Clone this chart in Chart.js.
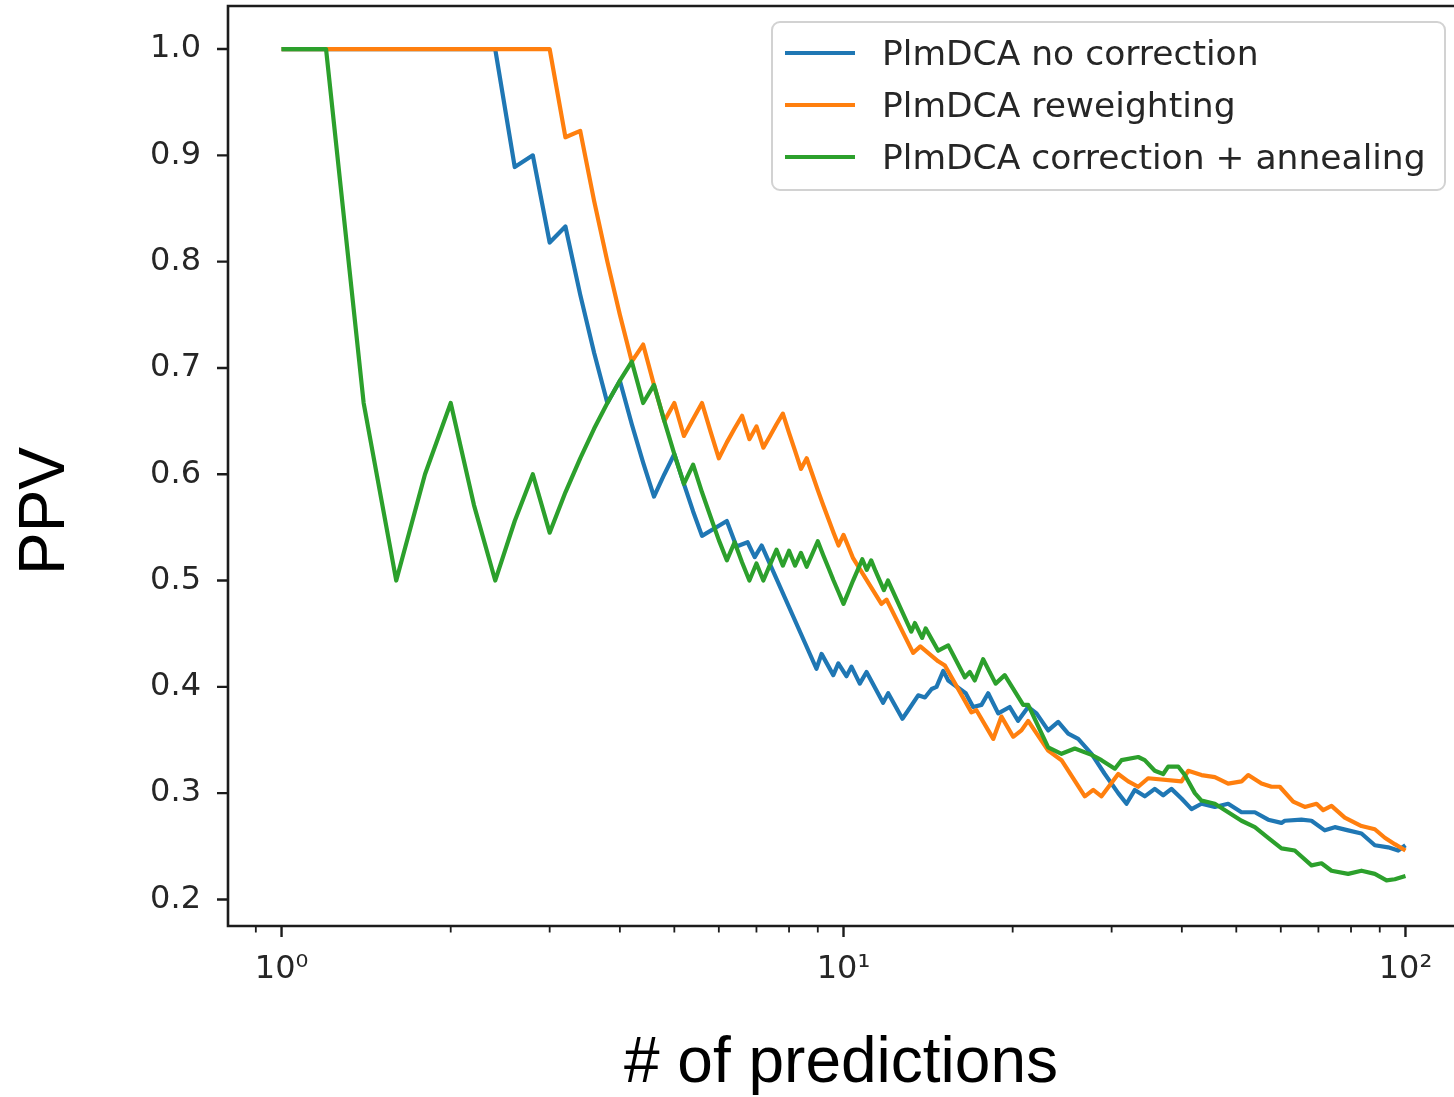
<!DOCTYPE html>
<html>
<head>
<meta charset="utf-8">
<script src="https://cdn.jsdelivr.net/npm/chart.js@4.4.1/dist/chart.umd.min.js"></script>
<style>
html,body{margin:0;padding:0;background:#ffffff;}
canvas{display:block;}
</style>
</head>
<body>
<canvas id="c" width="1454" height="1097"></canvas>
<script>
// ---------------- data ----------------
const seriesLabels = ['PlmDCA no correction', 'PlmDCA reweighting', 'PlmDCA correction + annealing'];
const seriesColors = ['#1f77b4', '#ff7f0e', '#2ca02c'];

const blueX = [1, 2.4, 2.6, 2.8, 3.0, 3.2, 3.4, 3.6, 3.8, 4.0, 4.2, 4.4, 4.6, 4.8, 5.0, 5.2, 5.4, 5.6, 6.2, 6.45,
  6.75, 6.95, 7.15, 8.95, 9.14, 9.59, 9.79, 10.12, 10.33, 10.69, 10.99, 11.76, 12.01, 12.73, 13.0, 13.58, 13.96, 14.35, 14.64, 15.05,
  15.36, 16.5, 17.01, 17.6, 18.09, 18.85, 19.76, 20.45, 21.31, 22.05, 23.13, 24.1, 25.11, 26.16, 27.63, 29.17, 30.82, 31.89, 32.99, 34.36,
  35.8, 37.06, 38.33, 39.94, 41.62, 43.35, 45.79, 48.36, 51.08, 53.95, 56.98, 60.17, 60.98, 65.3, 68.04, 71.86, 74.86, 79.07, 83.51, 88.2,
  93.17, 97.05, 100];
const blueY = [1, 1, 0.889, 0.9, 0.818, 0.833, 0.769, 0.714, 0.667, 0.688, 0.647, 0.611, 0.579, 0.6, 0.619, 0.591, 0.565, 0.542, 0.556, 0.532,
  0.536, 0.522, 0.533, 0.417, 0.431, 0.411, 0.422, 0.41, 0.419, 0.403, 0.414, 0.385, 0.394, 0.37, 0.377, 0.392, 0.39, 0.398, 0.4, 0.415,
  0.406, 0.394, 0.381, 0.383, 0.394, 0.375, 0.381, 0.368, 0.381, 0.375, 0.359, 0.367, 0.356, 0.351, 0.337, 0.318, 0.3, 0.29, 0.303, 0.297,
  0.304, 0.298, 0.304, 0.295, 0.285, 0.29, 0.287, 0.29, 0.282, 0.282, 0.275, 0.272, 0.274, 0.275, 0.274, 0.265, 0.268, 0.265, 0.262, 0.251,
  0.249, 0.246, 0.251];

const orangeX = [1, 3.0, 3.2, 3.4, 3.6, 3.8, 4.0, 4.2, 4.4, 4.6, 4.8, 5.0, 5.2, 5.4, 5.6, 5.8, 6.0, 6.2, 6.4, 6.6,
  6.8, 7.0, 7.2, 7.4, 7.6, 7.8, 8.0, 8.2, 8.4, 8.6, 8.8, 9.0, 9.2, 9.4, 9.6, 9.8, 10.0, 10.2, 10.4, 11.68,
  11.93, 13.3, 13.7, 14.74, 15.15, 16.89, 17.24, 18.47, 19.1, 20.04, 20.73, 21.31, 23.13, 24.43, 26.88, 27.82, 28.78, 30.82, 32.11, 33.45,
  34.84, 39.94, 41.06, 43.35, 45.79, 48.36, 51.08, 52.5, 55.44, 57.76, 59.75, 63.12, 66.2, 69.45, 71.38, 73.85, 77.98, 83.51, 88.2, 91.89,
  95.72, 100];
const orangeY = [1, 1, 0.917, 0.923, 0.857, 0.8, 0.75, 0.706, 0.722, 0.684, 0.65, 0.667, 0.636, 0.652, 0.667, 0.64, 0.615, 0.63, 0.643, 0.655,
  0.633, 0.645, 0.625, 0.636, 0.647, 0.657, 0.639, 0.622, 0.605, 0.615, 0.6, 0.585, 0.571, 0.558, 0.545, 0.533, 0.543, 0.532, 0.521, 0.478,
  0.482, 0.432, 0.438, 0.424, 0.42, 0.376, 0.378, 0.351, 0.372, 0.353, 0.359, 0.368, 0.34, 0.331, 0.297, 0.303, 0.297, 0.318, 0.311, 0.306,
  0.314, 0.311, 0.321, 0.317, 0.315, 0.309, 0.311, 0.317, 0.309, 0.306, 0.306, 0.292, 0.287, 0.29, 0.284, 0.288, 0.277, 0.269, 0.266, 0.258,
  0.252, 0.246];

const greenX = [1, 1.2, 1.4, 1.6, 1.8, 2.0, 2.2, 2.4, 2.6, 2.8, 3.0, 3.2, 3.4, 3.6, 3.8, 4.0, 4.2, 4.4, 4.6, 4.8,
  5.0, 5.2, 5.4, 5.6, 5.8, 6.0, 6.2, 6.4, 6.6, 6.8, 7.0, 7.2, 7.4, 7.6, 7.8, 8.0, 8.2, 8.4, 8.6, 8.8,
  9.0, 9.2, 9.4, 9.6, 9.8, 10.0, 10.2, 10.4, 10.6, 10.8, 11.0, 11.2, 11.4, 11.6, 11.8, 12.0, 13.2, 13.4, 13.8, 14.0,
  14.74, 15.36, 16.44, 16.78, 17.12, 17.72, 18.65, 19.36, 20.88, 21.31, 23.13, 24.43, 25.8, 27.63, 28.78, 30.4, 31.24, 33.45, 34.36, 35.8,
  37.06, 37.82, 39.41, 40.49, 42.19, 43.35, 45.79, 48.36, 51.08, 53.95, 56.98, 60.17, 63.53, 68.04, 70.88, 73.85, 79.07, 83.51, 88.2, 92.53,
  95.72, 100];
const greenY = [1, 1, 0.667, 0.5, 0.6, 0.667, 0.571, 0.5, 0.556, 0.6, 0.545, 0.583, 0.615, 0.643, 0.667, 0.688, 0.706, 0.667, 0.684, 0.65,
  0.619, 0.591, 0.609, 0.583, 0.56, 0.538, 0.519, 0.536, 0.517, 0.5, 0.516, 0.5, 0.515, 0.529, 0.514, 0.528, 0.514, 0.526, 0.513, 0.525,
  0.537, 0.524, 0.512, 0.5, 0.489, 0.478, 0.489, 0.5, 0.51, 0.52, 0.51, 0.519, 0.509, 0.5, 0.491, 0.5, 0.452, 0.46, 0.446, 0.455,
  0.434, 0.439, 0.409, 0.414, 0.406, 0.426, 0.403, 0.411, 0.383, 0.383, 0.343, 0.337, 0.342, 0.336, 0.331, 0.323, 0.331, 0.334, 0.331, 0.321,
  0.318, 0.325, 0.325, 0.317, 0.3, 0.293, 0.29, 0.282, 0.274, 0.268, 0.258, 0.248, 0.246, 0.232, 0.234, 0.227, 0.224, 0.227, 0.224, 0.218,
  0.219, 0.222];

const xMin = 0.803;
const xMax = 122;
const yMin = 0.175;
const yMax = 1.0405;
const xMajorTicks = [1, 10, 100];
const xMajorLabels = ['10\u2070', '10\u00b9', '10\u00b2'];
const xMinorTicks = [0.9, 2, 3, 4, 5, 6, 7, 8, 9, 20, 30, 40, 50, 60, 70, 80, 90];
const yTickValues = [0.2, 0.3, 0.4, 0.5, 0.6, 0.7, 0.8, 0.9, 1.0];
const yTickLabels = ['0.2', '0.3', '0.4', '0.5', '0.6', '0.7', '0.8', '0.9', '1.0'];
const xTitle = '# of predictions';
const yTitle = 'PPV';

// ---------------- chart ----------------
function pts(xs, ys) { return xs.map((x, i) => ({x: x, y: ys[i]})); }

const TICK_FONT = {family: 'DejaVu Sans', size: 32};
const INK = '#262626';

const decorPlugin = {
  id: 'decor',
  afterDraw(chart) {
    const ctx = chart.ctx;
    const a = chart.chartArea;
    const xs = chart.scales.x, ys = chart.scales.y;
    ctx.save();
    // spines
    ctx.strokeStyle = '#1c1c1c';
    ctx.lineWidth = 2.6;
    ctx.lineCap = 'butt';
    ctx.beginPath();
    ctx.moveTo(a.left - 1.3, a.top); ctx.lineTo(chart.width, a.top);
    ctx.moveTo(a.left, a.top); ctx.lineTo(a.left, a.bottom + 1.3);
    ctx.moveTo(a.left - 1.3, a.bottom); ctx.lineTo(chart.width, a.bottom);
    ctx.stroke();
    // y tick marks
    ctx.lineWidth = 2.4;
    ctx.beginPath();
    yTickValues.forEach(v => {
      const py = ys.getPixelForValue(v);
      ctx.moveTo(a.left - 11, py); ctx.lineTo(a.left, py);
    });
    ctx.stroke();
    // x major tick marks
    ctx.beginPath();
    xMajorTicks.forEach(v => {
      const px = xs.getPixelForValue(v);
      ctx.moveTo(px, a.bottom); ctx.lineTo(px, a.bottom + 11);
    });
    ctx.stroke();
    // x minor tick marks
    ctx.lineWidth = 1.8;
    ctx.beginPath();
    xMinorTicks.forEach(v => {
      const px = xs.getPixelForValue(v);
      ctx.moveTo(px, a.bottom); ctx.lineTo(px, a.bottom + 6.5);
    });
    ctx.stroke();

    // axis titles
    ctx.fillStyle = '#000000';
    ctx.font = '64px "Liberation Sans", Arial, sans-serif';
    ctx.textAlign = 'center';
    ctx.textBaseline = 'alphabetic';
    ctx.fillText(xTitle, (a.left + a.right) / 2, 1082);
    ctx.save();
    ctx.translate(64, 511);
    ctx.rotate(-Math.PI / 2);
    ctx.fillText(yTitle, 0, 0);
    ctx.restore();

    // legend
    const L = 772, T = 22, R = 1445, B = 190, rad = 8;
    ctx.beginPath();
    ctx.moveTo(L + rad, T);
    ctx.lineTo(R - rad, T); ctx.arcTo(R, T, R, T + rad, rad);
    ctx.lineTo(R, B - rad); ctx.arcTo(R, B, R - rad, B, rad);
    ctx.lineTo(L + rad, B); ctx.arcTo(L, B, L, B - rad, rad);
    ctx.lineTo(L, T + rad); ctx.arcTo(L, T, L + rad, T, rad);
    ctx.closePath();
    ctx.fillStyle = 'rgba(255,255,255,0.85)';
    ctx.fill();
    ctx.strokeStyle = '#d2d2d2';
    ctx.lineWidth = 2;
    ctx.stroke();
    ctx.font = '34.5px "DejaVu Sans", sans-serif';
    ctx.textAlign = 'left';
    ctx.textBaseline = 'middle';
    chart.data.datasets.forEach((ds, i) => {
      const cy = 53 + i * 52;
      ctx.strokeStyle = ds.borderColor;
      ctx.lineWidth = 4;
      ctx.beginPath();
      ctx.moveTo(785, cy); ctx.lineTo(855, cy);
      ctx.stroke();
      ctx.fillStyle = INK;
      ctx.fillText(ds.label, 882, cy + 3);
    });
    ctx.restore();
  }
};

const series = [pts(blueX, blueY), pts(orangeX, orangeY), pts(greenX, greenY)];

new Chart(document.getElementById('c'), {
  type: 'line',
  data: {
    datasets: series.map((d, i) => ({
      label: seriesLabels[i],
      data: d,
      borderColor: seriesColors[i],
      backgroundColor: seriesColors[i],
      borderWidth: 4.2,
      pointRadius: 0,
      tension: 0,
      fill: false,
      borderJoinStyle: 'round',
      borderCapStyle: 'butt',
      order: 3 - i
    }))
  },
  options: {
    responsive: false,
    animation: false,
    devicePixelRatio: 1,
    layout: {padding: {left: 0, right: 0, top: 6, bottom: 0}},
    plugins: {legend: {display: false}, tooltip: {enabled: false}, title: {display: false}},
    scales: {
      x: {
        type: 'logarithmic',
        min: xMin,
        max: xMax,
        afterBuildTicks: s => { s.ticks = xMajorTicks.concat(xMinorTicks).map(v => ({value: v})); },
        afterFit: s => { s.height = 171; s.paddingLeft = 0; s.paddingRight = 0; },
        grid: {display: false, drawTicks: false},
        border: {display: false},
        ticks: {
          autoSkip: false, maxRotation: 0, minRotation: 0, padding: 24,
          font: TICK_FONT, color: INK,
          callback: v => { const k = xMajorTicks.indexOf(v); return k >= 0 ? xMajorLabels[k] : ''; }
        }
      },
      y: {
        type: 'linear',
        min: yMin,
        max: yMax,
        afterBuildTicks: s => { s.ticks = yTickValues.map(v => ({value: v})); },
        afterFit: s => { s.width = 228; s.paddingTop = 0; s.paddingBottom = 0; },
        grid: {display: false, drawTicks: false},
        border: {display: false},
        ticks: {
          padding: 27, font: TICK_FONT, color: INK,
          callback: (v, i) => yTickLabels[i]
        }
      }
    }
  },
  plugins: [decorPlugin]
});
</script>
</body>
</html>
